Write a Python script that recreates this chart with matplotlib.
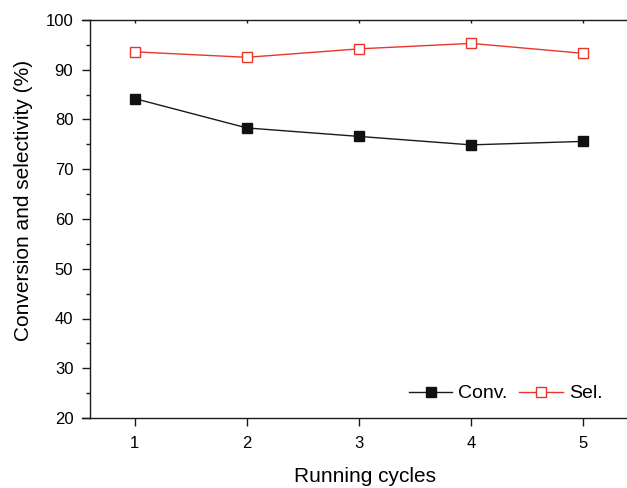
import matplotlib
matplotlib.use("Agg")
import matplotlib.pyplot as plt
from matplotlib.lines import Line2D
from matplotlib.ticker import MultipleLocator

plt.rcParams['font.family'] = ['Liberation Sans', 'DejaVu Sans']

cycles = [1, 2, 3, 4, 5]
conv = [84.2, 78.3, 76.6, 74.9, 75.6]
sel = [93.6, 92.5, 94.2, 95.3, 93.3]
xticks = [1, 2, 3, 4, 5]
yticks = [20, 30, 40, 50, 60, 70, 80, 90, 100]

red = '#e8362a'
dark = '#1a1a1a'

fig = plt.figure(figsize=(6.27, 4.88), dpi=100)
ax = fig.add_axes([90/627, 70/488, 537/627, 398/488])

ax.plot(cycles, conv, color=dark, lw=1.0, marker='s', ms=6.5,
        mfc='#111111', mec='#111111', label='Conv.', clip_on=False)
ax.plot(cycles, sel, color=red, lw=1.0, marker='s', ms=6.5,
        mfc='white', mec=red, mew=1.0, label='Sel.', clip_on=False)

ax.set_xlim(0.6, 5.39)
ax.set_ylim(20, 100)
ax.set_xticks(xticks)
ax.set_yticks(yticks)
ax.yaxis.set_minor_locator(MultipleLocator(5))

ax.spines['right'].set_visible(False)
for s in ['left', 'top', 'bottom']:
    ax.spines[s].set_linewidth(1.0)
    ax.spines[s].set_color(dark)

ax.tick_params(axis='x', which='major', direction='out', length=6, width=1.0,
               labelsize=12, pad=7, color=dark)
ax.tick_params(axis='y', which='major', direction='out', length=6, width=1.0,
               labelsize=12, pad=6, color=dark)
ax.tick_params(axis='y', which='minor', direction='out', length=3, width=1.0,
               color=dark)

# tiny tick marks on the top axis line
sec = ax.secondary_xaxis('top')
sec.set_xticks(xticks)
sec.tick_params(direction='in', length=2, width=1.0, labeltop=False, color=dark)
sec.spines['top'].set_visible(False)

# short extension of top and bottom axis lines beyond left spine
for yy in (0, 1):
    ax.add_line(Line2D([-8/537, 0], [yy, yy], transform=ax.transAxes,
                       color=dark, lw=1.0, clip_on=False))

ax.set_xlabel('Running cycles', fontsize=15)
ax.set_ylabel('Conversion and selectivity (%)', fontsize=15)
ax.xaxis.set_label_coords((365 - 90) / 537, (418 - 467) / 398)
ax.yaxis.set_label_coords((33 - 90) / 537, (418 - 200) / 398)

leg = ax.legend(loc='lower right', ncol=2, frameon=False, fontsize=14,
                handlelength=2.25, columnspacing=0.6, handletextpad=0.3,
                bbox_to_anchor=(0.987, -0.005))

fig.savefig('out.png', dpi=100)
